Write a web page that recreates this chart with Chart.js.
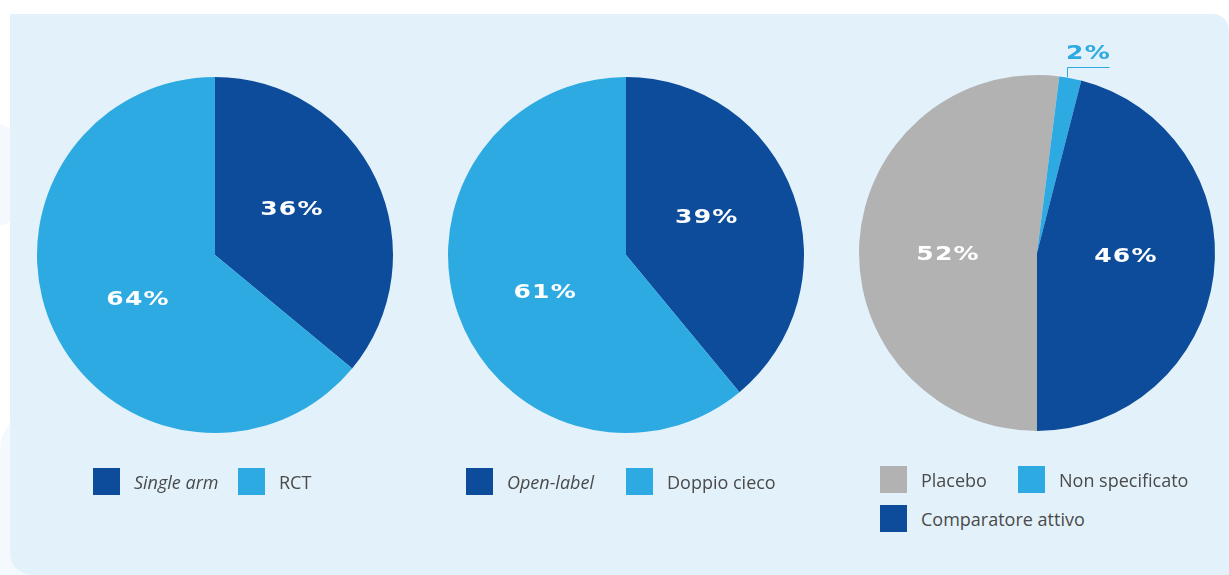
<!DOCTYPE html>
<html>
<head>
<meta charset="utf-8">
<script src="https://cdn.jsdelivr.net/npm/chart.js@4.4.0/dist/chart.umd.min.js"></script>
<style>
  html, body { margin: 0; padding: 0; background: #ffffff; width: 1229px; height: 575px; overflow: hidden; position: relative; }
  .haze { position: absolute; background: #f3f9fc; }
  #panel { position: absolute; left: 10px; top: 14px; width: 1219px; height: 561px; background: #e3f2fa; border-radius: 0 16px 0 22px; }
  canvas.pie { position: absolute; }
  .item { position: absolute; display: flex; align-items: center; white-space: nowrap;
          font-family: "Open Sans", Lato, sans-serif; font-size: 18px; color: #4a4a4a; }
  .sw { width: 27px; height: 27px; margin-right: 14px; flex: none; }
  .it { font-style: italic; }
</style>
</head>
<body>
<div class="haze" style="left:0;top:125px;width:14px;height:100px;border-radius:0 50px 50px 0;"></div>
<div class="haze" style="left:0;top:410px;width:40px;height:165px;border-radius:50px 0 0 0;"></div>
<div id="panel"></div>

<canvas id="c1" class="pie" width="400" height="440"></canvas>
<canvas id="c2" class="pie" width="400" height="440"></canvas>
<canvas id="c3" class="pie" width="400" height="440"></canvas>
<div id="legends"></div>

<script>
// Colours
const DARK = '#0d4c9b';
const LIGHT = '#2eaae2';
const GREY = '#b2b2b2';

// Chart 1: study design
const design = ['Single arm', 'RCT'];
const designValues = [36, 64];
const designColors = [DARK, LIGHT];

// Chart 2: blinding
const blinding = ['Open-label', 'Doppio cieco'];
const blindingValues = [39, 61];
const blindingColors = [DARK, LIGHT];

// Chart 3: comparator
const comparator = ['Placebo', 'Non specificato', 'Comparatore attivo'];
const comparatorValues = [52, 2, 46];
const comparatorColors = [GREY, LIGHT, DARK];

// Layout of each pie: centre on the page, start angle, italic legend entries,
// legend item positions, slices whose label sits outside
const layouts = [
  { id: 'c1', cx: 215, cy: 255, rotation: 0, italic: [0],
    legend: [[93, 468], [238, 468]], outside: [] },
  { id: 'c2', cx: 626, cy: 255, rotation: 0, italic: [0],
    legend: [[466, 468], [626, 468]], outside: [] },
  { id: 'c3', cx: 1037, cy: 253, rotation: 180, italic: [],
    legend: [[880, 466], [1018, 466], [880, 505]], outside: [1] }
];
const RADIUS = 178;
const CW = 400, CH = 440;
// inside labels sit at half the radius, turned slightly anticlockwise of the slice middle
const LABEL_RADIUS = 0.5;
const LABEL_TURN = -5 * Math.PI / 180;

// Wide bold percentage text
function drawWide(ctx, text, x, y, color) {
  ctx.save();
  ctx.font = 'bold 20px "DejaVu Sans"';
  ctx.letterSpacing = '1px';
  ctx.fillStyle = color;
  ctx.textAlign = 'center';
  ctx.textBaseline = 'middle';
  ctx.translate(x, y);
  ctx.scale(1.25, 1);
  ctx.fillText(text, 0, 0);
  ctx.restore();
}

const pctLabels = {
  id: 'pctLabels',
  afterDatasetsDraw(chart, args, opts) {
    const ctx = chart.ctx;
    const ds = chart.data.datasets[0];
    chart.getDatasetMeta(0).data.forEach((arc, i) => {
      const p = arc.getProps(['x', 'y', 'startAngle', 'endAngle', 'outerRadius'], true);
      const mid = (p.startAngle + p.endAngle) / 2;
      const text = ds.data[i] + '%';
      if ((opts.outside || []).includes(i)) {
        const ex = p.x + Math.cos(mid) * p.outerRadius;
        const ey = p.y + Math.sin(mid) * p.outerRadius;
        const ly = p.y - p.outerRadius - 8;
        const len = 42;
        const lx = Math.round(ex - 3) + 0.5;
        ctx.save();
        ctx.strokeStyle = ds.backgroundColor[i];
        ctx.lineWidth = 1;
        ctx.beginPath();
        ctx.moveTo(lx, ey - 1);
        ctx.lineTo(lx, Math.round(ly) + 0.5);
        ctx.lineTo(lx + len, Math.round(ly) + 0.5);
        ctx.stroke();
        ctx.restore();
        drawWide(ctx, text, lx + len / 2, ly - 13, ds.backgroundColor[i]);
      } else {
        const r = p.outerRadius * LABEL_RADIUS;
        const a = mid + LABEL_TURN;
        drawWide(ctx, text, p.x + Math.cos(a) * r, p.y + Math.sin(a) * r, '#ffffff');
      }
    });
  }
};

function makePie(layout, labels, values, colors) {
  const cv = document.getElementById(layout.id);
  cv.style.left = (layout.cx - CW / 2) + 'px';
  cv.style.top = (layout.cy - CH / 2) + 'px';
  new Chart(cv, {
    type: 'pie',
    data: {
      labels: labels,
      datasets: [{ data: values, backgroundColor: colors, borderWidth: 0, radius: RADIUS }]
    },
    options: {
      responsive: false,
      animation: false,
      rotation: layout.rotation,
      layout: { padding: 0 },
      plugins: {
        legend: { display: false },
        tooltip: { enabled: false },
        pctLabels: { outside: layout.outside }
      }
    },
    plugins: [pctLabels]
  });

  // Legend built from the same labels and colours
  const host = document.getElementById('legends');
  labels.forEach((lab, i) => {
    const item = document.createElement('div');
    item.className = 'item';
    item.style.left = layout.legend[i][0] + 'px';
    item.style.top = layout.legend[i][1] + 'px';
    const sw = document.createElement('div');
    sw.className = 'sw';
    sw.style.background = colors[i];
    const tx = document.createElement('span');
    tx.textContent = lab;
    if (layout.italic.includes(i)) tx.className = 'it';
    item.appendChild(sw);
    item.appendChild(tx);
    host.appendChild(item);
  });
}

makePie(layouts[0], design, designValues, designColors);
makePie(layouts[1], blinding, blindingValues, blindingColors);
makePie(layouts[2], comparator, comparatorValues, comparatorColors);
</script>
</body>
</html>
